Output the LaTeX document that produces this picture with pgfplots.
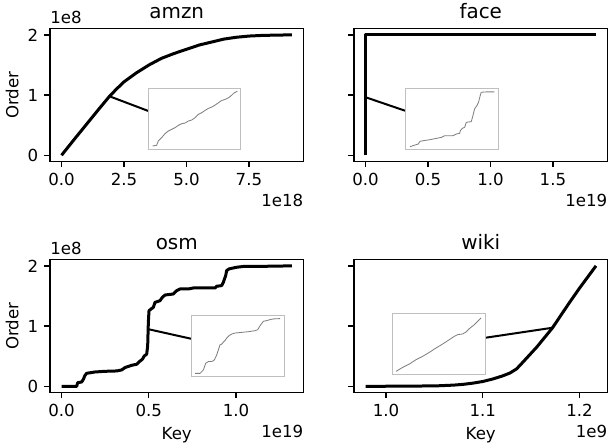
\documentclass[border=0pt]{standalone}
\usepackage{fontspec}
\setmainfont{DejaVu Sans}
\usepackage{pgfplots}
\pgfplotsset{compat=1.18}
\newcommand\tfont{\fontsize{10}{12}\selectfont}
\newcommand\ttfont{\fontsize{12}{14}\selectfont}
\definecolor{insetframe}{HTML}{BFBFBF}
\definecolor{insetline}{HTML}{808080}
\pgfplotsset{
  mainax/.style={
    scale only axis, width=152.1bp, height=79.5bp,
    anchor=south west,
    ymin=-0.1, ymax=2.1, ytick={0,1,2},
    tick align=outside, major tick length=3.5bp,
    xtick pos=lower, ytick pos=left,
    every tick/.style={black, line width=0.8bp},
    axis line style={line width=0.8bp},
    tick label style={font=\tfont},
    /pgf/number format/assume math mode=true,
    scaled ticks=false,
    every axis title/.style={at={(0.5,1)}, anchor=base, yshift=6.2bp, font=\ttfont},
    every axis x label/.style={at={(axis description cs:0.5,0)}, anchor=base, yshift=-28.4bp, font=\tfont},
    every axis y label/.style={at={(axis description cs:0,0.5)}, rotate=90, anchor=base, yshift=19bp, font=\tfont},
  },
  mainline/.style={black, line width=1.8bp, line join=round, no marks},
  conn/.style={black, line width=1.2bp, no marks},
  inset/.style={
    scale only axis, width=55.44bp, height=36.48bp, anchor=south west,
    xtick=\empty, ytick=\empty, y dir=reverse,
    axis line style={draw=insetframe, line width=0.6bp},
    axis background/.style={fill=white},
  },
  insetplot/.style={insetline, line width=0.5bp, no marks},
}
\begin{document}
\begin{tikzpicture}
\useasboundingbox (0,0) rectangle (364.8bp,267.6bp);
% ---------------- amzn
\begin{axis}[mainax, at={(30bp,170.8bp)},
  title={amzn}, ylabel={Order},
  xmin=-0.461, xmax=9.683, xtick={0,2.5,5,7.5}, xticklabels={0.0,2.5,5.0,7.5},
  yticklabels={0,1,2},
  extra description/.code={
    \node[anchor=base west, inner sep=0pt, font=\tfont] at ([yshift=3.2bp]0,1) {1e8};
    \node[anchor=base east, inner sep=0pt, font=\tfont] at ([yshift=-27bp]1,0) {1e18};
  }]
\addplot[mainline] coordinates {(0,0) (0.5,0.26) (1.0,0.515) (1.5,0.77) (1.92,0.98) (2.2,1.1) (2.5,1.22) (3.0,1.37) (3.5,1.5) (4.0,1.61) (4.5,1.69) (5.0,1.76) (5.5,1.83) (6.0,1.88) (6.5,1.93) (7.0,1.96) (7.5,1.98) (8.0,1.99) (8.5,1.995) (9.22,2.0)};
\addplot[conn] coordinates {(1.92,0.98) (3.464,0.7375)};
\end{axis}
\begin{axis}[inset, at={(88.98bp,178.02bp)}, xmin=25, xmax=302, ymin=22, ymax=205]
\addplot[insetplot] coordinates {(38,195) (50,193) (55,180) (65,170) (75,158) (85,150) (95,145) (105,140) (115,133) (125,128) (135,126) (145,120) (155,117) (165,110) (175,100) (185,95) (195,88) (205,82) (215,78) (225,72) (235,65) (245,58) (255,55) (265,50) (272,45) (280,37) (292,30)};
\end{axis}
% ---------------- face
\begin{axis}[mainax, at={(212.4bp,170.8bp)},
  title={face},
  xmin=-0.0922, xmax=1.9369, xtick={0,0.5,1,1.5}, xticklabels={0.0,0.5,1.0,1.5},
  yticklabels={},
  extra description/.code={
    \node[anchor=base east, inner sep=0pt, font=\tfont] at ([yshift=-27bp]1,0) {1e19};
  }]
\addplot[mainline] coordinates {(0,0) (0,2) (1.8447,2)};
\addplot[conn] coordinates {(0.002,0.963) (0.32,0.738)};
\end{axis}
\begin{axis}[inset, at={(243.42bp,177.78bp)}, xmin=17, xmax=296, ymin=15, ymax=197]
\addplot[insetplot] coordinates {(30,188) (45,183) (55,180) (60,172) (70,170) (90,167) (110,163) (125,160) (135,155) (160,155) (170,150) (180,148) (182,140) (188,133) (195,130) (200,115) (215,113) (220,95) (225,75) (232,65) (237,55) (242,35) (245,25) (260,24) (285,24)};
\end{axis}
% ---------------- osm
\begin{axis}[mainax, at={(30bp,32.2bp)},
  title={osm}, ylabel={Order}, xlabel={Key},
  xmin=-0.066, xmax=1.386, xtick={0,0.5,1}, xticklabels={0.0,0.5,1.0},
  yticklabels={0,1,2},
  extra description/.code={
    \node[anchor=base west, inner sep=0pt, font=\tfont] at ([yshift=3.2bp]0,1) {1e8};
    \node[anchor=base east, inner sep=0pt, font=\tfont] at ([yshift=-27bp]1,0) {1e19};
  }]
\addplot[mainline] coordinates {(0,0) (0.0869,0) (0.0926,0.06) (0.1155,0.072) (0.125,0.116) (0.1346,0.183) (0.1441,0.216) (0.1919,0.238) (0.2491,0.249) (0.316,0.255) (0.3446,0.272) (0.3637,0.311) (0.4019,0.349) (0.4305,0.366) (0.4439,0.405) (0.463,0.449) (0.4744,0.505) (0.4878,0.533) (0.4935,0.672) (0.4973,1.061) (0.5011,1.255) (0.5126,1.283) (0.526,1.311) (0.5355,1.394) (0.5641,1.422) (0.5775,1.477) (0.5928,1.516) (0.6405,1.533) (0.6596,1.588) (0.6787,1.616) (0.7264,1.616) (0.755,1.633) (0.8792,1.633) (0.8887,1.661) (0.9174,1.672) (0.9268,1.727) (0.9402,1.838) (0.9459,1.922) (0.9593,1.949) (1.0033,1.977) (1.0414,1.99) (1.1082,1.99) (1.32,2.0)};
\addplot[conn] coordinates {(0.495,0.95) (0.742,0.79)};
\end{axis}
\begin{axis}[inset, at={(115.02bp,41.58bp)}, xmin=20, xmax=297, ymin=19, ymax=200]
\addplot[insetplot] coordinates {(30,190) (45,190) (55,180) (62,160) (70,155) (80,155) (88,150) (95,135) (100,120) (105,105) (110,103) (115,97) (120,92) (125,85) (133,77) (140,73) (150,70) (170,68) (190,66) (210,63) (218,60) (225,48) (235,35) (245,33) (255,30) (265,28) (285,27)};
\end{axis}
% ---------------- wiki
\begin{axis}[mainax, at={(212.4bp,32.2bp)},
  title={wiki}, xlabel={Key},
  xmin=0.96689, xmax=1.22891, xtick={1.0,1.1,1.2}, xticklabels={1.0,1.1,1.2},
  yticklabels={},
  extra description/.code={
    \node[anchor=base east, inner sep=0pt, font=\tfont] at ([yshift=-27bp]1,0) {1e9};
  }]
\addplot[mainline] coordinates {(0.9788,0) (1.02,0.002) (1.053,0.008) (1.07,0.02) (1.08,0.033) (1.09,0.053) (1.1,0.08) (1.11,0.12) (1.12,0.17) (1.128,0.22) (1.135,0.29) (1.142,0.41) (1.156,0.655) (1.172,0.97) (1.1795,1.15) (1.19,1.40) (1.2,1.63) (1.217,2.0)};
\addplot[conn] coordinates {(1.1719,0.972) (1.1022,0.805)};
\end{axis}
\begin{axis}[inset, at={(235.62bp,42.78bp)}, xmin=20, xmax=297, ymin=18, ymax=200]
\addplot[insetplot] coordinates {(30,190) (50,178) (70,168) (90,155) (110,145) (130,133) (150,120) (170,108) (190,95) (205,85) (215,80) (230,78) (240,72) (250,62) (265,50) (285,30)};
\end{axis}
\end{tikzpicture}
\end{document}
